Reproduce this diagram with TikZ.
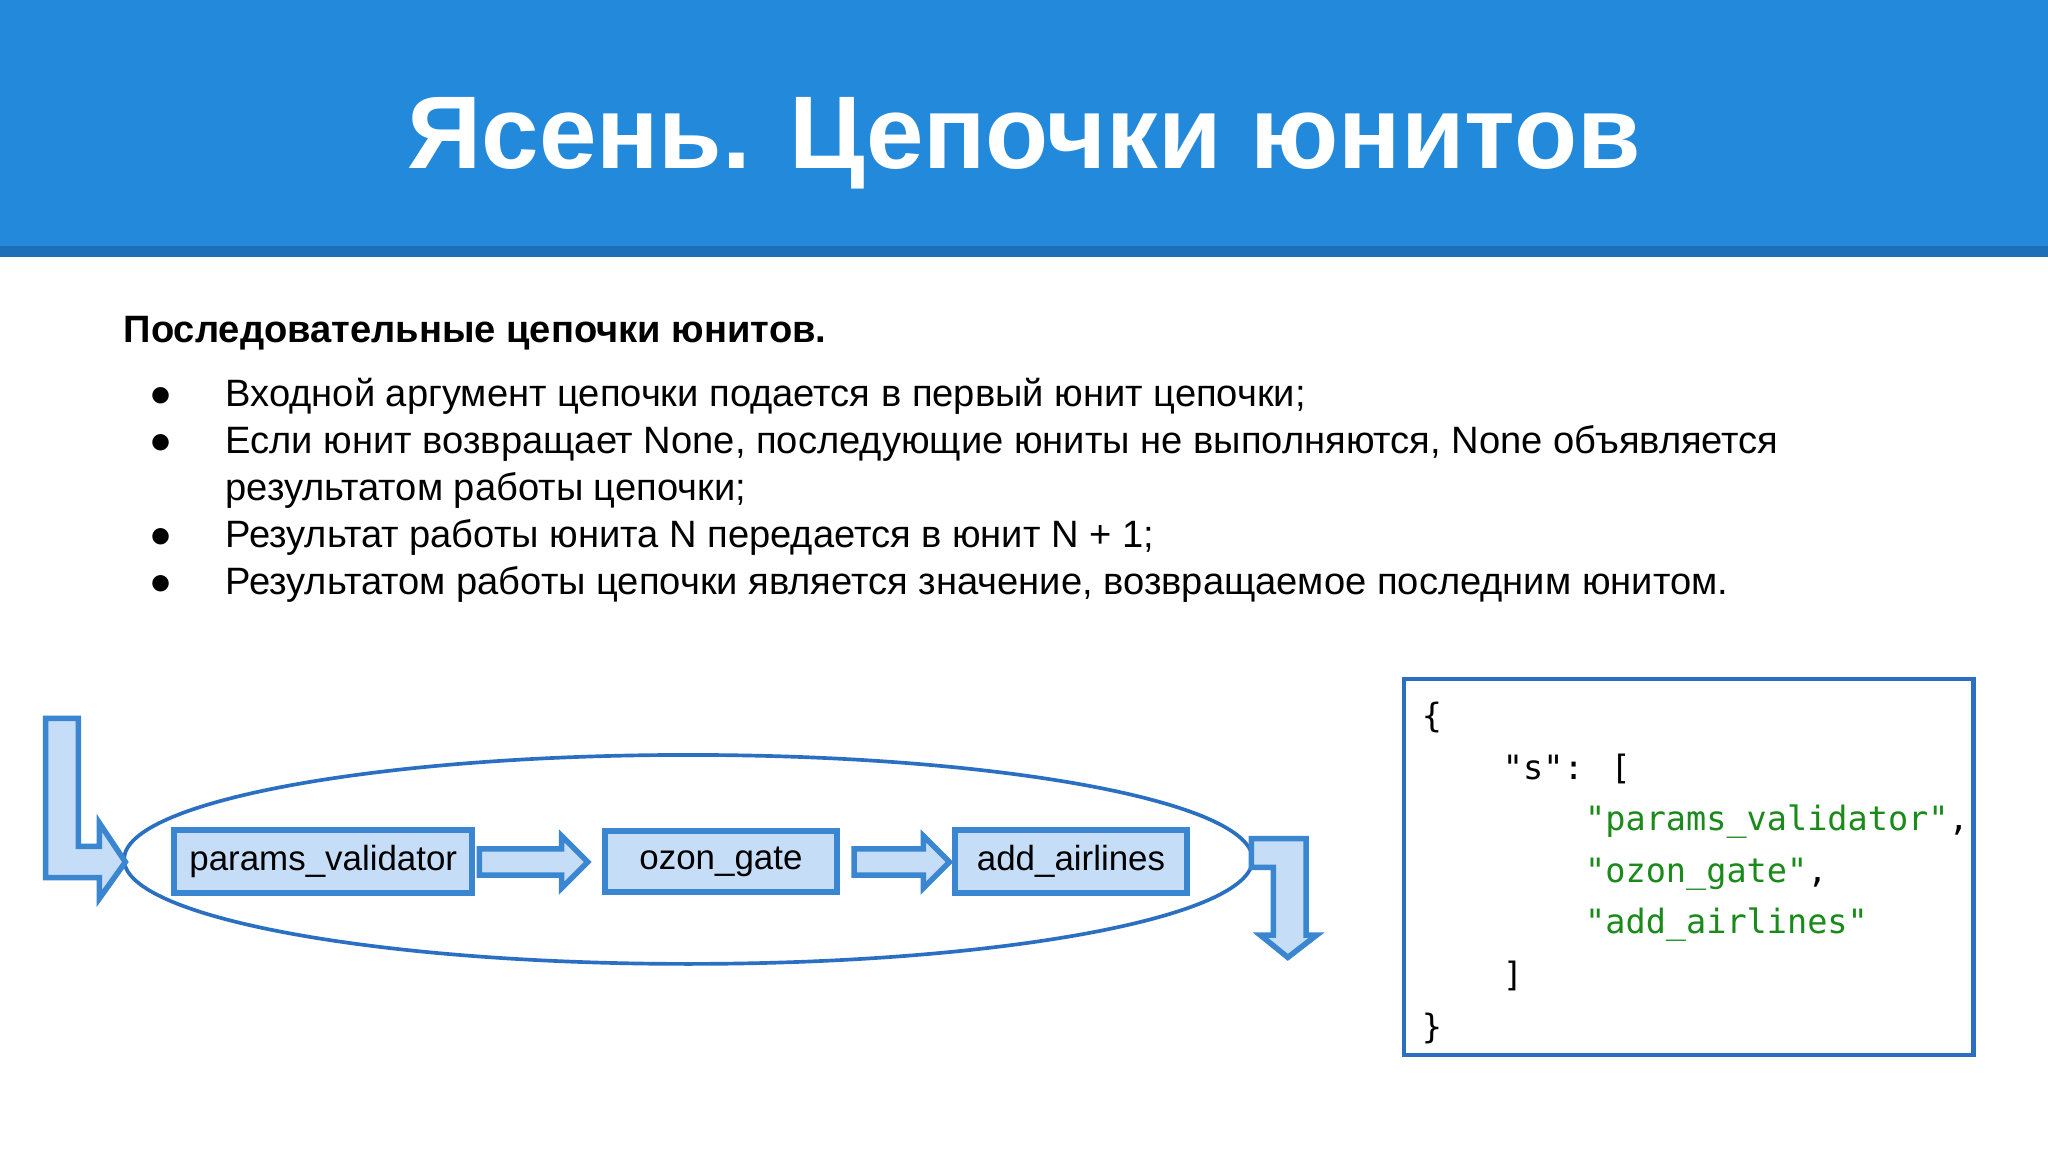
\documentclass[tikz,border=0pt]{standalone}
\usepackage{fontspec}
\setmainfont{Liberation Sans}
\newfontfamily\codefont{DejaVu Sans Mono}
\definecolor{barblue}{HTML}{2389DB}
\definecolor{bardark}{HTML}{1E6FBA}
\definecolor{lineblue}{HTML}{2A6FC2}
\definecolor{boxfill}{HTML}{C6DDF8}
\definecolor{boxline}{HTML}{3A86D0}
\definecolor{codegreen}{HTML}{1A8A1A}
\tikzset{
  unit/.style={draw=boxline,line width=1.3pt,fill=boxfill,minimum width=227\pgfutil@empty,inner sep=0pt},
  blk/.style={draw=boxline,line width=1.2pt,fill=boxfill,line join=miter},
  bul/.style={anchor=base west,font=\fontsize{8.3pt}{10pt}\selectfont,inner sep=0pt},
  code/.style={anchor=base west,font=\codefont\fontsize{7.3pt}{9pt}\selectfont,inner sep=0pt}
}
\begin{document}
\begin{tikzpicture}[x=0.01cm,y=-0.01cm]
\useasboundingbox (0,0) rectangle (1568,882);
\fill[white] (0,0) rectangle (1568,882);
\fill[barblue] (0,0) rectangle (1568,190);
\fill[bardark] (0,188) rectangle (1568,197);
\node[text=white,font=\bfseries\fontsize{22.5pt}{26pt}\selectfont] (title) at (784,110) {Ясень. Цепочки юнитов};
\node[bul,font=\bfseries\fontsize{8.3pt}{10pt}\selectfont] (head) at (94,262) {Последовательные цепочки юнитов.};
\foreach \y/\t [count=\i] in {311/{Входной аргумент цепочки подается в первый юнит цепочки;},347/{Если юнит возвращает None, последующие юниты не выполняются, None объявляется},383/{результатом работы цепочки;},419/{Результат работы юнита N передается в юнит N + 1;},455/{Результатом работы цепочки является значение, возвращаемое последним юнитом.}}{
  \node[bul] (t\i) at (172,\y) {\t};
}
\foreach \y [count=\i] in {311,347,419,455}{
  \node[bul] (b\i) at (114,\y) {●};
}
% ellipse
\draw[lineblue,line width=0.8pt] (527,658) ellipse [x radius=432,y radius=80];
% units
\node[draw=boxline,line width=1.3pt,fill=boxfill,minimum width=2.27cm,minimum height=0.45cm,font=\fontsize{7.6pt}{9pt}\selectfont] (u1) at (247.5,659.5) {params\_validator};
\node[draw=boxline,line width=1.3pt,fill=boxfill,minimum width=1.78cm,minimum height=0.45cm,font=\fontsize{7.6pt}{9pt}\selectfont] (u2) at (552,659.5) {ozon\_gate};
\node[draw=boxline,line width=1.3pt,fill=boxfill,minimum width=1.78cm,minimum height=0.45cm,font=\fontsize{7.6pt}{9pt}\selectfont] (u3) at (820,659.5) {add\_airlines};
% block arrows
\draw[blk] (367,650)--(430,650)--(430,640)--(450,660)--(430,680)--(430,670)--(367,670)--cycle;
\draw[blk] (654,650)--(707,650)--(707,640)--(727,660)--(707,680)--(707,670)--(654,670)--cycle;
\draw[blk] (35,550)--(60,550)--(60,648)--(76,648)--(76,630)--(96,660)--(76,688)--(76,672)--(35,672)--cycle;
\draw[blk] (958,642)--(1000,642)--(1000,716)--(1008,716)--(986,733)--(965,716)--(975,716)--(975,664)--(958,664)--cycle;
% code box
\draw[lineblue,line width=0.9pt] (1075,520) rectangle (1511,808);
\node[code] (c1) at (1088,557) {\{};
\node[code] (c2) at (1150,597) {"s": [};
\node[code,text=codegreen] (c3) at (1213,636) {"params\_validator"\textcolor{black}{,}};
\node[code,text=codegreen] (c4) at (1213,676) {"ozon\_gate"\textcolor{black}{,}};
\node[code,text=codegreen] (c5) at (1213,715) {"add\_airlines"};
\node[code] (c6) at (1150,755) {]};
\node[code] (c7) at (1088,795) {\}};
\end{tikzpicture}
\end{document}
